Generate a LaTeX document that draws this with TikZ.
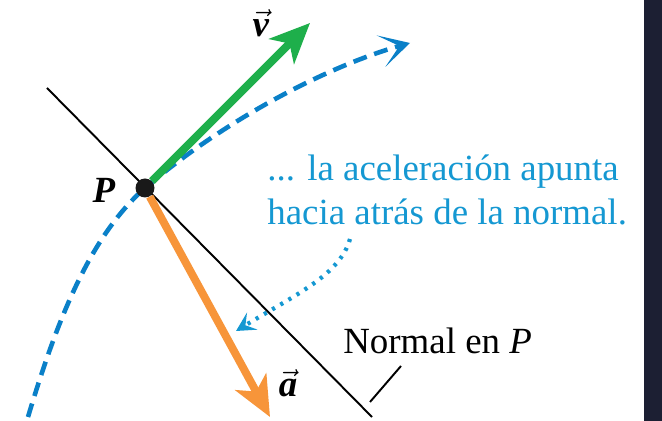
\documentclass[tikz,border=0pt]{standalone}
\usepackage{fontspec}
\setmainfont{Liberation Serif}
\usepackage{amsmath}
\usetikzlibrary{arrows.meta}
\definecolor{vgreen}{HTML}{1EAF4B}
\definecolor{aorange}{HTML}{F7953A}
\definecolor{pathblue}{HTML}{0A80C8}
\definecolor{noteblue}{HTML}{1598D2}
\definecolor{barnavy}{HTML}{1C1F33}

\begin{document}
\begin{tikzpicture}[
    x=0.02cm,y=-0.02cm,
    font=\fontsize{21}{25.6}\selectfont,
    dot/.style={circle,fill=black!90,inner sep=0pt,minimum size=0.38cm},
    vecarr/.style={line width=4.5pt,-{Stealth[length=8mm,width=7mm,inset=2.2mm]}},
    pathline/.style={pathblue,line width=2.6pt,dash pattern=on 8pt off 4.5pt,-{Stealth[length=6mm,width=6.5mm,inset=3.8mm]}},
    hint/.style={noteblue,line width=2.4pt,dash pattern=on 1.8pt off 3.6pt,-{Stealth[length=3.8mm,width=4mm,inset=1.6mm]}},
    lbl/.style={inner sep=0pt}
  ]
    \useasboundingbox (0,0) rectangle (662,421);
    \fill[barnavy] (644,0) rectangle (662,421);

    \coordinate (Pc) at (145,188);
    \coordinate (ntop) at (47,88);
    \coordinate (nbot) at (372,417);
    \coordinate (cbot) at (28,417);
    \coordinate (ctip) at (410,43);
    \coordinate (vtip) at (310,23);
    \coordinate (atip) at (270,417);
    \coordinate (hstart) at (350,239);
    \coordinate (htip) at (236,331);
    \coordinate (lead) at (370,402);
    \coordinate (leadtop) at (401,366);

    \draw[line width=1.1pt] (ntop) -- (nbot);
    \draw[pathline] (cbot) .. controls (60,310) and (93,234) .. (Pc)
      .. controls (232,114) and (335,64) .. (ctip);
    \node[dot] (P) at (Pc) {};
    \draw[vecarr,vgreen] (P) -- (vtip);
    \draw[vecarr,aorange] (P) -- (atip);

    \node[lbl] (Plab) at (104,190) {\textbf{\textit{P}}};
    \node[lbl,anchor=base] (vlab) at (261,37) {$\vec{\textbf{\textit{v}}}$};
    \node[lbl,anchor=base] (alab) at (288,397) {$\vec{\textbf{\textit{a}}}$};

    \node[lbl,anchor=base west,align=left,text=noteblue] (note) at (267,225)
      {... la aceleración apunta\\hacia atrás de la normal.};
    \draw[hint] (hstart) .. controls (340,275) and (295,295) .. (htip);

    \node[lbl,anchor=base west] (nlab) at (343,354) {Normal en \textit{P}};
    \draw[line width=1.1pt] (lead) -- (leadtop);
  \end{tikzpicture}
\end{document}
